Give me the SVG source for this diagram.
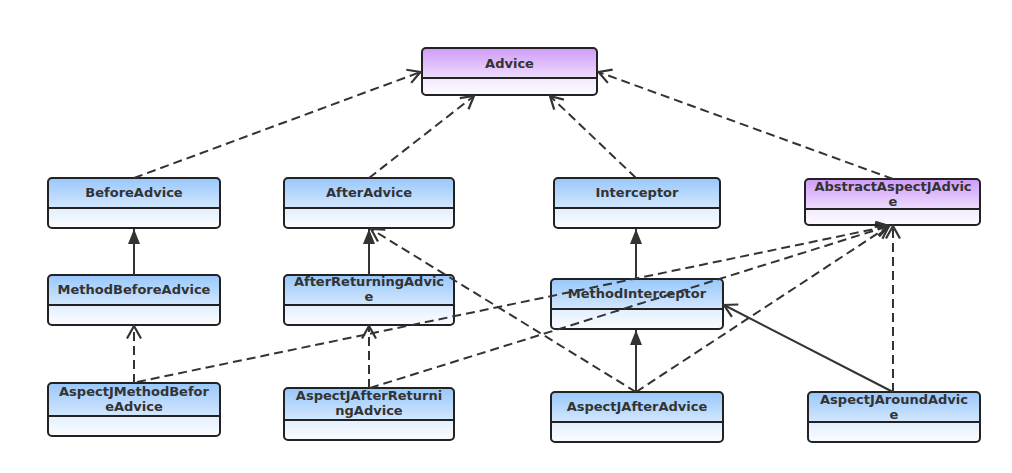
<svg xmlns="http://www.w3.org/2000/svg" width="1012" height="473" viewBox="0 0 1012 473">
<style>
.t{font-family:"DejaVu Sans","Liberation Sans",sans-serif;font-weight:bold;font-size:13px;fill:#333;text-anchor:middle}
.box{fill:none;stroke:#222;stroke-width:2}
.div{stroke:#222;stroke-width:2}
.hb{fill:url(#hb)}
.bb{fill:url(#bb)}
.hp{fill:url(#hp)}
.bp{fill:url(#bp)}
.d{fill:none;stroke:#333;stroke-width:2;stroke-dasharray:9 5;marker-end:url(#open)}
.s{fill:none;stroke:#333;stroke-width:2;marker-end:url(#tri)}
.so{fill:none;stroke:#333;stroke-width:2;marker-end:url(#open)}
</style>
<defs>
<linearGradient id="hb" x1="0" y1="0" x2="0" y2="1"><stop offset="0" stop-color="#98c7fb"/><stop offset="1" stop-color="#d3e7fd"/></linearGradient>
<linearGradient id="bb" x1="0" y1="0" x2="0" y2="1"><stop offset="0.55" stop-color="#deedfe"/><stop offset="1" stop-color="#fbfdff"/></linearGradient>
<linearGradient id="hp" x1="0" y1="0" x2="0" y2="1"><stop offset="0" stop-color="#cf9bf8"/><stop offset="1" stop-color="#eedcfd"/></linearGradient>
<linearGradient id="bp" x1="0" y1="0" x2="0" y2="1"><stop offset="0.55" stop-color="#f1e5fe"/><stop offset="1" stop-color="#fdfaff"/></linearGradient>
<marker id="open" viewBox="-15 -9 17 18" refX="0" refY="0" markerWidth="17" markerHeight="18" markerUnits="userSpaceOnUse" orient="auto">
<path d="M-12.5,-7 L0,0 L-12.5,7" fill="none" stroke="#333" stroke-width="2.2"/>
</marker>
<marker id="tri" viewBox="-16 -8 17 16" refX="0" refY="0" markerWidth="17" markerHeight="16" markerUnits="userSpaceOnUse" orient="auto">
<path d="M-15,-6 L0,0 L-15,6 Z" fill="#333"/>
</marker>
</defs>

<g id="Advice">
<rect x="422" y="48" width="175" height="47" rx="4" class="bp"/>
<path d="M422,78 V52 Q422,48 426,48 H593 Q597,48 597,52 V78 Z" class="hp"/>
<rect x="422" y="48" width="175" height="47" rx="4" class="box"/>
<line x1="422" y1="78" x2="597" y2="78" class="div"/>
<text x="509.5" y="68" class="t">Advice</text>
</g>

<g id="BeforeAdvice">
<rect x="48" y="178" width="172" height="50" rx="4" class="bb"/>
<path d="M48,208 V182 Q48,178 52,178 H216 Q220,178 220,182 V208 Z" class="hb"/>
<rect x="48" y="178" width="172" height="50" rx="4" class="box"/>
<line x1="48" y1="208" x2="220" y2="208" class="div"/>
<text x="134" y="197" class="t">BeforeAdvice</text>
</g>

<g id="AfterAdvice">
<rect x="284" y="178" width="170" height="50" rx="4" class="bb"/>
<path d="M284,208 V182 Q284,178 288,178 H450 Q454,178 454,182 V208 Z" class="hb"/>
<rect x="284" y="178" width="170" height="50" rx="4" class="box"/>
<line x1="284" y1="208" x2="454" y2="208" class="div"/>
<text x="369" y="197" class="t">AfterAdvice</text>
</g>

<g id="Interceptor">
<rect x="554" y="178" width="166" height="50" rx="4" class="bb"/>
<path d="M554,208 V182 Q554,178 558,178 H716 Q720,178 720,182 V208 Z" class="hb"/>
<rect x="554" y="178" width="166" height="50" rx="4" class="box"/>
<line x1="554" y1="208" x2="720" y2="208" class="div"/>
<text x="637" y="197" class="t">Interceptor</text>
</g>

<g id="AbstractAspectJAdvice">
<rect x="805" y="179" width="175" height="46" rx="4" class="bp"/>
<path d="M805,209 V183 Q805,179 809,179 H976 Q980,179 980,183 V209 Z" class="hp"/>
<rect x="805" y="179" width="175" height="46" rx="4" class="box"/>
<line x1="805" y1="209" x2="980" y2="209" class="div"/>
<text x="893" y="191" class="t">AbstractAspectJAdvic</text>
<text x="893" y="205.5" class="t">e</text>
</g>

<g id="MethodBeforeAdvice">
<rect x="48" y="275" width="172" height="50" rx="4" class="bb"/>
<path d="M48,305 V279 Q48,275 52,275 H216 Q220,275 220,279 V305 Z" class="hb"/>
<rect x="48" y="275" width="172" height="50" rx="4" class="box"/>
<line x1="48" y1="305" x2="220" y2="305" class="div"/>
<text x="134" y="294" class="t">MethodBeforeAdvice</text>
</g>

<g id="AfterReturningAdvice">
<rect x="284" y="275" width="170" height="50" rx="4" class="bb"/>
<path d="M284,305 V279 Q284,275 288,275 H450 Q454,275 454,279 V305 Z" class="hb"/>
<rect x="284" y="275" width="170" height="50" rx="4" class="box"/>
<line x1="284" y1="305" x2="454" y2="305" class="div"/>
<text x="369" y="286" class="t">AfterReturningAdvic</text>
<text x="369" y="301" class="t">e</text>
</g>

<g id="MethodInterceptor">
<rect x="551" y="279" width="172" height="50" rx="4" class="bb"/>
<path d="M551,309 V283 Q551,279 555,279 H719 Q723,279 723,283 V309 Z" class="hb"/>
<rect x="551" y="279" width="172" height="50" rx="4" class="box"/>
<line x1="551" y1="309" x2="723" y2="309" class="div"/>
<text x="637" y="297.5" class="t">MethodInterceptor</text>
</g>

<g id="AspectJMethodBeforeAdvice">
<rect x="48" y="383" width="172" height="53" rx="4" class="bb"/>
<path d="M48,416 V387 Q48,383 52,383 H216 Q220,383 220,387 V416 Z" class="hb"/>
<rect x="48" y="383" width="172" height="53" rx="4" class="box"/>
<line x1="48" y1="416" x2="220" y2="416" class="div"/>
<text x="134" y="395.5" class="t">AspectJMethodBefor</text>
<text x="134" y="411" class="t">eAdvice</text>
</g>

<g id="AspectJAfterReturningAdvice">
<rect x="284" y="388" width="170" height="52" rx="4" class="bb"/>
<path d="M284,420 V392 Q284,388 288,388 H450 Q454,388 454,392 V420 Z" class="hb"/>
<rect x="284" y="388" width="170" height="52" rx="4" class="box"/>
<line x1="284" y1="420" x2="454" y2="420" class="div"/>
<text x="369" y="400" class="t">AspectJAfterReturni</text>
<text x="369" y="415" class="t">ngAdvice</text>
</g>

<g id="AspectJAfterAdvice">
<rect x="551" y="392" width="172" height="50" rx="4" class="bb"/>
<path d="M551,422 V396 Q551,392 555,392 H719 Q723,392 723,396 V422 Z" class="hb"/>
<rect x="551" y="392" width="172" height="50" rx="4" class="box"/>
<line x1="551" y1="422" x2="723" y2="422" class="div"/>
<text x="637" y="410.5" class="t">AspectJAfterAdvice</text>
</g>

<g id="AspectJAroundAdvice">
<rect x="808" y="392" width="172" height="50" rx="4" class="bb"/>
<path d="M808,422 V396 Q808,392 812,392 H976 Q980,392 980,396 V422 Z" class="hb"/>
<rect x="808" y="392" width="172" height="50" rx="4" class="box"/>
<line x1="808" y1="422" x2="980" y2="422" class="div"/>
<text x="894" y="403.5" class="t">AspectJAroundAdvic</text>
<text x="894" y="418.5" class="t">e</text>
</g>

<g id="connectors">
<path class="d" d="M134,178 L420.5,72"/>
<path class="d" d="M369,178 L474,96"/>
<path class="d" d="M636,178 L550,96"/>
<path class="d" d="M893,179 L598.5,72"/>
<path class="s" d="M134,275 L134,229"/>
<path class="s" d="M369,275 L369,229"/>
<path class="s" d="M636,279 L636,229"/>
<path class="d" d="M134,383 L134,326"/>
<path class="d" d="M137,382 L889,226"/>
<path class="d" d="M369,388 L369,326"/>
<path class="d" d="M370,388 L889,226"/>
<path class="d" d="M636,392 L371,229"/>
<path class="s" d="M636,392 L636,330"/>
<path class="d" d="M636,392 L889,226"/>
<path class="so" d="M893,392 L724,305"/>
<path class="d" d="M893,392 L893,226"/>
</g>
</svg>
